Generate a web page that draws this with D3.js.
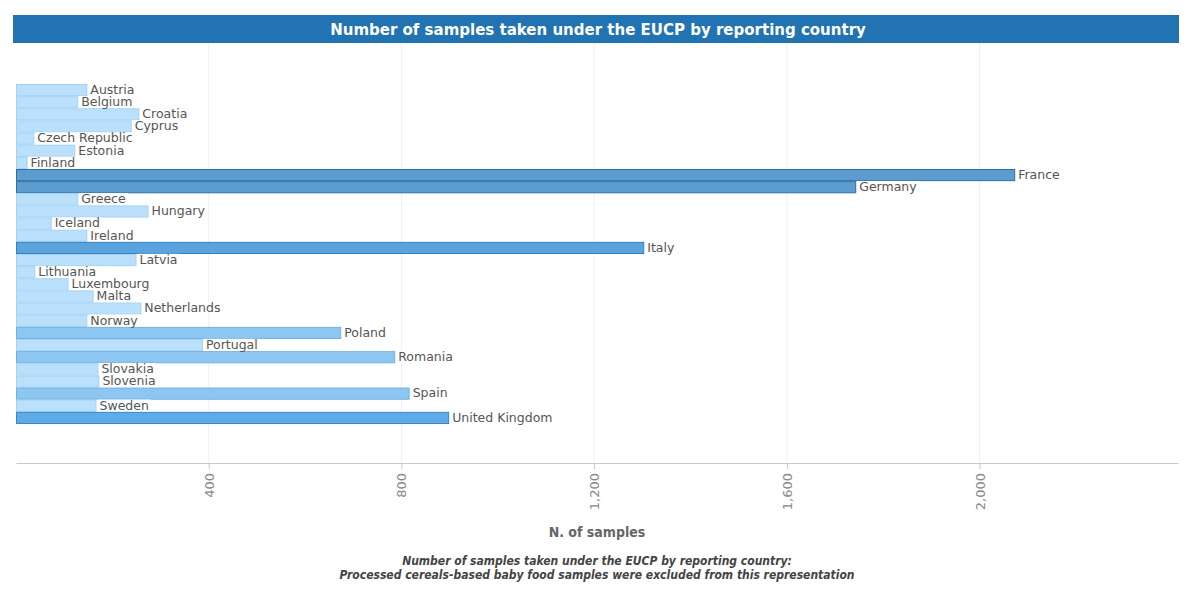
<!DOCTYPE html>
<html>
<head>
<meta charset="utf-8">
<script src="https://cdn.jsdelivr.net/npm/d3@7"></script>
<style>
  body { margin: 0; background: #fff; }
  svg { display: block; }
</style>
</head>
<body>
<svg id="chart" width="1200" height="603"></svg>
<script>
const countries = ["Austria", "Belgium", "Croatia", "Cyprus", "Czech Republic", "Estonia", "Finland",
  "France", "Germany", "Greece", "Hungary", "Iceland", "Ireland", "Italy", "Latvia", "Lithuania",
  "Luxembourg", "Malta", "Netherlands", "Norway", "Poland", "Portugal", "Romania", "Slovakia",
  "Slovenia", "Spain", "Sweden", "United Kingdom"];
const samples = [146, 127, 254, 238, 36, 121, 22,
  2072, 1742, 127, 273, 72, 146, 1302, 248, 38,
  107, 159, 258, 146, 673, 386, 785, 169,
  171, 815, 165, 897];
const tickValues = [400, 800, 1200, 1600, 2000];

const title = "Number of samples taken under the EUCP by reporting country";
const axisTitle = "N. of samples";
const caption = ["Number of samples taken under the EUCP by reporting country:",
  "Processed cereals-based baby food samples were excluded from this representation"];

const data = countries.map((c, i) => ({ country: c, value: samples[i] }));

const svg = d3.select("#chart");
const m = { left: 16, right: 1178, top: 84, bottom: 424, axisY: 463 };

// title bar
svg.append("rect").attr("x", 13).attr("y", 15).attr("width", 1166).attr("height", 28)
  .attr("fill", "#2273b1");
svg.append("text").attr("x", 598).attr("y", 35).attr("text-anchor", "middle")
  .attr("fill", "#fff").attr("font-family", "Verdana, 'DejaVu Sans', sans-serif")
  .attr("font-weight", "bold").attr("font-size", 15).text(title);

const x = d3.scaleLinear().domain([0, 2412]).range([m.left, m.right]);
const y = d3.scaleBand().domain(countries).range([m.top, m.bottom]).padding(0);

const color = d3.scaleThreshold()
  .domain([400, 850, 1200, 1500])
  .range(["#bae0fb", "#8dc6f1", "#5eabea", "#5ba3dc", "#5c9ccf"]);
const stroke = d3.scaleThreshold()
  .domain([400, 850, 1200, 1500])
  .range(["#a3d2f5", "#6fb1e6", "#3a86c8", "#3580c0", "#2d6fa5"]);

// grid
svg.append("g").selectAll("line").data(tickValues).join("line")
  .attr("x1", d => x(d)).attr("x2", d => x(d))
  .attr("y1", 43).attr("y2", m.axisY)
  .attr("stroke", "#efefef");

// bars
svg.append("g").selectAll("rect").data(data).join("rect")
  .attr("x", x(0) + 0.5)
  .attr("y", d => y(d.country) + 0.5)
  .attr("width", d => x(d.value) - x(0))
  .attr("height", y.bandwidth() - 1)
  .attr("fill", d => color(d.value))
  .attr("stroke", d => stroke(d.value));

// labels with white backgrounds
const labels = svg.append("g").selectAll("g").data(data).join("g")
  .attr("transform", d => `translate(${x(d.value) + 2},${y(d.country) + y.bandwidth() / 2})`);
labels.append("text")
  .attr("x", 2).attr("dy", "0.3em")
  .attr("font-family", "Verdana, 'DejaVu Sans', sans-serif")
  .attr("font-size", 12.5).attr("fill", "#555")
  .text(d => d.country);
labels.each(function () {
  const g = d3.select(this);
  const bb = g.select("text").node().getBBox();
  g.insert("rect", "text").attr("x", bb.x - 2).attr("y", bb.y + 2)
    .attr("width", bb.width + 4).attr("height", bb.height - 4).attr("fill", "#fff");
});

// axis
const axis = svg.append("g").attr("transform", `translate(0,${m.axisY})`)
  .call(d3.axisBottom(x).tickValues(tickValues).tickFormat(d3.format(",")).tickSize(6).tickSizeOuter(0));
axis.select(".domain").attr("stroke", "#c8c8c8");
axis.selectAll(".tick line").attr("stroke", "#c8c8c8");
axis.selectAll(".tick text")
  .attr("transform", "rotate(-90)")
  .attr("text-anchor", "end")
  .attr("x", -10).attr("y", 0).attr("dy", "0.35em")
  .attr("fill", "#888")
  .attr("font-family", "Verdana, 'DejaVu Sans', sans-serif")
  .attr("font-size", 13);

svg.append("text").attr("x", 597).attr("y", 537).attr("text-anchor", "middle")
  .attr("font-family", "'DejaVu Sans Condensed', 'Liberation Sans Narrow', sans-serif")
  .attr("font-weight", "bold").attr("font-size", 14).attr("fill", "#666")
  .text(axisTitle);

svg.append("g").selectAll("text").data(caption).join("text")
  .attr("x", 597).attr("y", (d, i) => 565 + i * 14).attr("text-anchor", "middle")
  .attr("font-family", "'DejaVu Sans Condensed', 'Liberation Sans Narrow', sans-serif")
  .attr("font-style", "italic").attr("font-weight", "bold")
  .attr("font-size", 12).attr("fill", "#444")
  .text(d => d);
</script>
</body>
</html>
